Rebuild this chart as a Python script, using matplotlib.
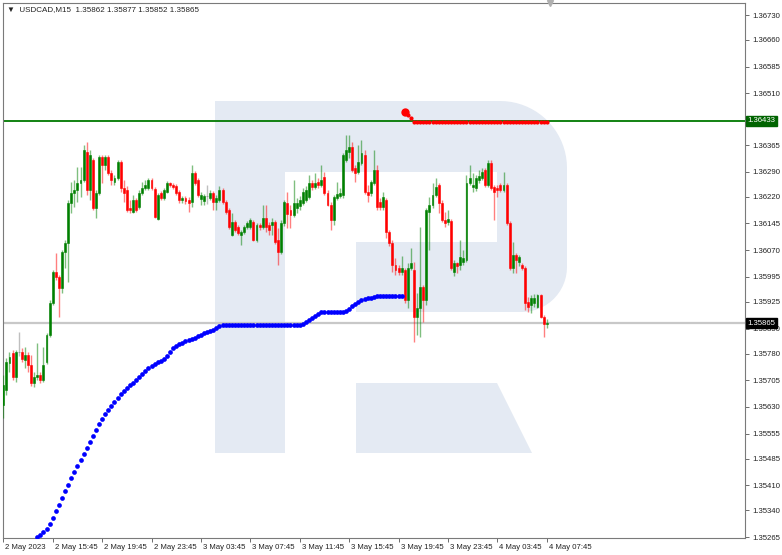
import numpy as np
import matplotlib
matplotlib.use("Agg")
import matplotlib.pyplot as plt
from matplotlib.patches import Polygon
from matplotlib import transforms

plt.rcParams['font.family'] = ['Liberation Sans', 'DejaVu Sans']

symbol = "USDCAD,M15"

# M15 bars, 2 May 11:45 .. 4 May 07:45
opens = [
    1.35635, 1.35678, 1.35753, 1.35781, 1.35714, 1.35784, 1.35784, 1.35762, 1.35776, 1.35748,
    1.35697, 1.35714, 1.35720, 1.35706, 1.35756, 1.35832, 1.35922, 1.36009, 1.35995, 1.35964,
    1.36065, 1.36090, 1.36202, 1.36230, 1.36239, 1.36259, 1.36267, 1.36346, 1.36239, 1.36323,
    1.36188, 1.36230, 1.36332, 1.36309, 1.36332, 1.36287, 1.36261, 1.36273, 1.36318, 1.36245,
    1.36239, 1.36188, 1.36177, 1.36211, 1.36191, 1.36230, 1.36245, 1.36245, 1.36267, 1.36242,
    1.36157, 1.36230, 1.36217, 1.36233, 1.36259, 1.36253, 1.36250, 1.36233, 1.36211, 1.36217,
    1.36211, 1.36205, 1.36287, 1.36267, 1.36214, 1.36208, 1.36222, 1.36217, 1.36230, 1.36205,
    1.36211, 1.36239, 1.36205, 1.36183, 1.36113, 1.36149, 1.36135, 1.36113, 1.36121, 1.36135,
    1.36135, 1.36149, 1.36099, 1.36141, 1.36135, 1.36160, 1.36141, 1.36141, 1.36149, 1.36099,
    1.36065, 1.36146, 1.36202, 1.36183, 1.36169, 1.36188, 1.36194, 1.36202, 1.36211, 1.36219,
    1.36259, 1.36247, 1.36261, 1.36253, 1.36275, 1.36230, 1.36197, 1.36155, 1.36217, 1.36222,
    1.36225, 1.36323, 1.36346, 1.36360, 1.36301, 1.36290, 1.36315, 1.36337, 1.36233, 1.36230,
    1.36259, 1.36295, 1.36205, 1.36191, 1.36211, 1.36121, 1.36090, 1.36028, 1.36020, 1.36009,
    1.36014, 1.35930, 1.36020, 1.36014, 1.35882, 1.35908, 1.35967, 1.35930, 1.36177, 1.36197,
    1.36225, 1.36253, 1.36202, 1.36155, 1.36149, 1.36152, 1.36009, 1.36034, 1.36028, 1.36037,
    1.36042, 1.36259, 1.36247, 1.36245, 1.36267, 1.36273, 1.36295, 1.36253, 1.36315, 1.36247,
    1.36245, 1.36253, 1.36239, 1.36253, 1.36146, 1.36020, 1.36056, 1.36037, 1.36028, 1.36020,
    1.35924, 1.35916, 1.35922, 1.35910, 1.35944, 1.35882, 1.35862,
]
highs = [
    1.35720, 1.35767, 1.35784, 1.35790, 1.35790, 1.35840, 1.35795, 1.35798, 1.35784, 1.35776,
    1.35728, 1.35809, 1.35728, 1.35798, 1.35837, 1.35930, 1.36014, 1.36062, 1.36000, 1.36070,
    1.36099, 1.36211, 1.36261, 1.36267, 1.36303, 1.36303, 1.36365, 1.36374, 1.36351, 1.36329,
    1.36239, 1.36337, 1.36337, 1.36337, 1.36337, 1.36295, 1.36281, 1.36323, 1.36323, 1.36267,
    1.36250, 1.36211, 1.36225, 1.36217, 1.36239, 1.36261, 1.36267, 1.36273, 1.36273, 1.36247,
    1.36230, 1.36236, 1.36245, 1.36264, 1.36261, 1.36259, 1.36256, 1.36239, 1.36222, 1.36222,
    1.36219, 1.36309, 1.36292, 1.36273, 1.36233, 1.36228, 1.36253, 1.36239, 1.36236, 1.36225,
    1.36250, 1.36245, 1.36211, 1.36188, 1.36174, 1.36155, 1.36141, 1.36127, 1.36141, 1.36152,
    1.36160, 1.36155, 1.36146, 1.36146, 1.36197, 1.36197, 1.36149, 1.36160, 1.36155, 1.36132,
    1.36155, 1.36211, 1.36233, 1.36197, 1.36267, 1.36217, 1.36222, 1.36245, 1.36250, 1.36281,
    1.36267, 1.36287, 1.36273, 1.36309, 1.36290, 1.36239, 1.36205, 1.36225, 1.36261, 1.36245,
    1.36343, 1.36393, 1.36393, 1.36374, 1.36309, 1.36365, 1.36379, 1.36351, 1.36253, 1.36267,
    1.36351, 1.36309, 1.36217, 1.36233, 1.36217, 1.36127, 1.36099, 1.36048, 1.36028, 1.36054,
    1.36020, 1.36034, 1.36076, 1.36037, 1.35950, 1.36135, 1.35972, 1.36188, 1.36219, 1.36259,
    1.36273, 1.36259, 1.36211, 1.36177, 1.36183, 1.36157, 1.36042, 1.36037, 1.36099, 1.36070,
    1.36281, 1.36309, 1.36287, 1.36281, 1.36295, 1.36301, 1.36301, 1.36323, 1.36323, 1.36253,
    1.36253, 1.36259, 1.36290, 1.36259, 1.36152, 1.36093, 1.36062, 1.36056, 1.36034, 1.36026,
    1.35938, 1.35944, 1.35947, 1.35947, 1.35947, 1.35888, 1.35877,
]
lows = [
    1.35599, 1.35664, 1.35728, 1.35706, 1.35700, 1.35773, 1.35756, 1.35739, 1.35728, 1.35689,
    1.35686, 1.35706, 1.35697, 1.35700, 1.35750, 1.35826, 1.35916, 1.35986, 1.35882, 1.35950,
    1.36020, 1.35981, 1.36174, 1.36191, 1.36205, 1.36219, 1.36261, 1.36225, 1.36211, 1.36183,
    1.36160, 1.36225, 1.36259, 1.36295, 1.36281, 1.36253, 1.36253, 1.36267, 1.36233, 1.36205,
    1.36177, 1.36174, 1.36174, 1.36177, 1.36186, 1.36225, 1.36239, 1.36239, 1.36239, 1.36160,
    1.36155, 1.36211, 1.36211, 1.36230, 1.36247, 1.36242, 1.36225, 1.36202, 1.36202, 1.36200,
    1.36177, 1.36191, 1.36253, 1.36219, 1.36197, 1.36197, 1.36200, 1.36211, 1.36183, 1.36183,
    1.36205, 1.36200, 1.36172, 1.36129, 1.36110, 1.36121, 1.36113, 1.36084, 1.36115, 1.36129,
    1.36129, 1.36096, 1.36093, 1.36127, 1.36129, 1.36121, 1.36113, 1.36113, 1.36087, 1.36028,
    1.36059, 1.36138, 1.36132, 1.36132, 1.36163, 1.36174, 1.36183, 1.36197, 1.36205, 1.36214,
    1.36239, 1.36242, 1.36245, 1.36247, 1.36225, 1.36194, 1.36127, 1.36141, 1.36211, 1.36217,
    1.36217, 1.36318, 1.36329, 1.36290, 1.36261, 1.36284, 1.36309, 1.36228, 1.36205, 1.36222,
    1.36253, 1.36183, 1.36183, 1.36183, 1.36104, 1.36082, 1.36009, 1.36000, 1.36000, 1.36000,
    1.35922, 1.35908, 1.36014, 1.35812, 1.35832, 1.35826, 1.35868, 1.35916, 1.36070, 1.36188,
    1.36219, 1.36174, 1.36149, 1.36135, 1.36141, 1.36014, 1.35997, 1.36006, 1.36014, 1.36028,
    1.36037, 1.36253, 1.36233, 1.36236, 1.36259, 1.36267, 1.36247, 1.36247, 1.36239, 1.36155,
    1.36219, 1.36233, 1.36233, 1.36141, 1.36014, 1.36006, 1.36006, 1.36026, 1.36014, 1.35902,
    1.35896, 1.35894, 1.35910, 1.35908, 1.35879, 1.35826, 1.35852,
]
closes = [
    1.35692, 1.35756, 1.35770, 1.35714, 1.35784, 1.35784, 1.35765, 1.35776, 1.35748, 1.35697,
    1.35714, 1.35720, 1.35706, 1.35748, 1.35832, 1.35922, 1.36009, 1.35995, 1.35964, 1.36065,
    1.36090, 1.36202, 1.36230, 1.36239, 1.36259, 1.36267, 1.36351, 1.36239, 1.36337, 1.36188,
    1.36230, 1.36332, 1.36309, 1.36332, 1.36287, 1.36267, 1.36273, 1.36318, 1.36245, 1.36230,
    1.36183, 1.36183, 1.36211, 1.36183, 1.36230, 1.36245, 1.36253, 1.36267, 1.36245, 1.36163,
    1.36225, 1.36217, 1.36239, 1.36259, 1.36253, 1.36247, 1.36230, 1.36211, 1.36217, 1.36208,
    1.36202, 1.36287, 1.36259, 1.36225, 1.36225, 1.36222, 1.36222, 1.36230, 1.36205, 1.36217,
    1.36239, 1.36205, 1.36177, 1.36135, 1.36149, 1.36127, 1.36118, 1.36121, 1.36135, 1.36146,
    1.36155, 1.36099, 1.36141, 1.36135, 1.36160, 1.36135, 1.36127, 1.36149, 1.36093, 1.36065,
    1.36146, 1.36205, 1.36172, 1.36169, 1.36202, 1.36202, 1.36211, 1.36233, 1.36239, 1.36259,
    1.36247, 1.36259, 1.36253, 1.36267, 1.36230, 1.36197, 1.36155, 1.36219, 1.36228, 1.36230,
    1.36337, 1.36351, 1.36360, 1.36295, 1.36287, 1.36318, 1.36343, 1.36233, 1.36225, 1.36261,
    1.36295, 1.36191, 1.36191, 1.36219, 1.36121, 1.36090, 1.36028, 1.36014, 1.36009, 1.36020,
    1.35930, 1.36020, 1.36034, 1.35882, 1.35908, 1.35967, 1.35930, 1.36183, 1.36197, 1.36225,
    1.36247, 1.36202, 1.36155, 1.36146, 1.36157, 1.36020, 1.36034, 1.36026, 1.36051, 1.36048,
    1.36259, 1.36273, 1.36253, 1.36273, 1.36278, 1.36290, 1.36253, 1.36315, 1.36245, 1.36233,
    1.36239, 1.36239, 1.36253, 1.36146, 1.36020, 1.36056, 1.36042, 1.36051, 1.36020, 1.35922,
    1.35910, 1.35936, 1.35936, 1.35944, 1.35882, 1.35862, 1.35865,
]

# trailing-stop indicator: blue (below price) then red (above price)
blue_start = 11
blue_stop = [
    1.35265, 1.35271, 1.35279, 1.35287, 1.35301, 1.35318, 1.35338, 1.35355, 1.35374, 1.35394,
    1.35411, 1.35431, 1.35447, 1.35464, 1.35481, 1.35498, 1.35515, 1.35532, 1.35548, 1.35565,
    1.35582, 1.35596, 1.35610, 1.35621, 1.35633, 1.35644, 1.35655, 1.35666, 1.35675, 1.35683,
    1.35692, 1.35697, 1.35706, 1.35714, 1.35723, 1.35731, 1.35739, 1.35745, 1.35750, 1.35756,
    1.35759, 1.35765, 1.35773, 1.35784, 1.35795, 1.35801, 1.35807, 1.35809, 1.35815, 1.35818,
    1.35821, 1.35823, 1.35829, 1.35832, 1.35837, 1.35840, 1.35843, 1.35846, 1.35851, 1.35857,
    1.35860, 1.35860, 1.35860, 1.35860, 1.35860, 1.35860, 1.35860, 1.35860, 1.35860, 1.35860,
    1.35860, 1.35860, 1.35860, 1.35860, 1.35860, 1.35860, 1.35860, 1.35860, 1.35860, 1.35860,
    1.35860, 1.35860, 1.35860, 1.35860, 1.35860, 1.35860, 1.35863, 1.35868, 1.35874, 1.35879,
    1.35885, 1.35891, 1.35896, 1.35896, 1.35896, 1.35896, 1.35896, 1.35896, 1.35896, 1.35896,
    1.35899, 1.35905, 1.35913, 1.35919, 1.35924, 1.35930, 1.35933, 1.35936, 1.35936, 1.35938,
    1.35941, 1.35941, 1.35941, 1.35941, 1.35941, 1.35941, 1.35941, 1.35941, 1.35941,
]
red_start = 130
red_stop = [
    1.36458, 1.36449, 1.36441, 1.36431, 1.36431, 1.36431, 1.36431, 1.36431, 1.36431, 1.36431,
    1.36431, 1.36431, 1.36431, 1.36431, 1.36431, 1.36431, 1.36431, 1.36431, 1.36431, 1.36431,
    1.36431, 1.36431, 1.36431, 1.36431, 1.36431, 1.36431, 1.36431, 1.36431, 1.36431, 1.36431,
    1.36431, 1.36431, 1.36431, 1.36431, 1.36431, 1.36431, 1.36431, 1.36431, 1.36431, 1.36431,
    1.36431, 1.36431, 1.36431, 1.36431, 1.36431, 1.36431, 1.36431,
]

resistance = 1.36433
last_price = 1.35865

time_labels = ["2 May 2023", "2 May 15:45", "2 May 19:45", "2 May 23:45", "3 May 03:45",
               "3 May 07:45", "3 May 11:45", "3 May 15:45", "3 May 19:45", "3 May 23:45",
               "4 May 03:45", "4 May 07:45"]
# the level under the green price tag is hidden in the reference
price_labels = ["1.35265", "1.35340", "1.35410", "1.35485", "1.35555", "1.35630", "1.35705",
                "1.35780", "1.35850", "1.35925", "1.35995", "1.36070", "1.36145", "1.36220",
                "1.36290", "1.36365", "1.36510", "1.36585", "1.36660", "1.36730"]

o = np.array(opens)
h = np.array(highs)
l = np.array(lows)
c = np.array(closes)
n = len(c)
x = np.arange(n)

fig = plt.figure(figsize=(7.82, 5.55), dpi=100)
ax = fig.add_axes([3 / 782, 17 / 555, 742 / 782, 535 / 555])

# watermark logo, drawn in figure pixels (y down)
px = transforms.Affine2D().scale(1 / 782, -1 / 555).translate(0, 1) + fig.transFigure
t1 = np.linspace(np.pi / 2, 0, 20)
t2 = np.linspace(0, -np.pi / 2, 15)
arc1 = np.column_stack([500 + 67 * np.cos(t1), 168 - 67 * np.sin(t1)])
arc2 = np.column_stack([522 + 45 * np.cos(t2), 267 - 45 * np.sin(t2)])
body = np.vstack([[[215, 101]], arc1, arc2,
                  [[356, 312], [356, 242], [497, 242], [497, 172], [285, 172], [285, 453], [215, 453]]])
wm = '#e4eaf3'
ax.add_patch(Polygon(body, closed=True, fc=wm, ec='none', transform=px, zorder=0))
ax.add_patch(Polygon([[356, 383], [497, 383], [532, 453], [356, 453]], closed=True,
                     fc=wm, ec='none', transform=px, zorder=0))

# horizontal levels
ax.axhline(last_price, color='#c8c8c8', lw=1.6, zorder=1)
ax.axhline(resistance, color='#007800', lw=1.3, zorder=2)

# candles
up_col, dn_col, dj_col = '#008000', '#ff0000', '#808080'
cols = np.where(c > o, up_col, np.where(c < o, dn_col, dj_col))
ax.vlines(x, l, h, colors=cols, lw=1.0, alpha=0.5, zorder=3)
ax.bar(x, np.abs(c - o), bottom=np.minimum(o, c), width=0.62, color=cols,
       edgecolor=cols, linewidth=0.4, zorder=4)

# stop dots
xb = np.arange(blue_start, blue_start + len(blue_stop))
ax.plot(xb, blue_stop, 'o', color='#0000ff', ms=3.4, mew=0, zorder=5)
xr = np.arange(red_start, red_start + len(red_stop))
ax.plot(xr[1:], red_stop[1:], 'o', color='#ff0000', ms=3.0, mew=0, zorder=5)
ax.plot(xr[:1], red_stop[:1], 'o', color='#ff0000', ms=6.0, mew=0, zorder=5)

ax.set_xlim(-0.1, 240.2)
ax.set_ylim(1.352622, 1.367637)

for s in ax.spines.values():
    s.set_color('#7a7a7a')
    s.set_linewidth(0.8)

ax.yaxis.tick_right()
ax.set_yticks([float(v) for v in price_labels])
ax.set_yticklabels(price_labels)
ax.tick_params(axis='y', direction='out', length=3, width=0.6, colors='#555555',
               labelsize=5.6, labelcolor='#222222', pad=2)
ax.set_xticks(x[::16])
ax.set_xticklabels(time_labels)
ax.tick_params(axis='x', direction='out', length=3, width=0.6, colors='#555555',
               labelsize=5.6, labelcolor='#222222', pad=1.5)
shift = transforms.ScaledTranslation(2 / 100, 0, fig.dpi_scale_trans)
for lbl in ax.get_xticklabels():
    lbl.set_ha('left')
    lbl.set_transform(lbl.get_transform() + shift)

# price tags on the right scale
ytr = ax.get_yaxis_transform()
ax.text(1.003, resistance, f"{resistance:.5f}", transform=ytr, ha='left', va='center',
        fontsize=5.6, color='white', zorder=6, clip_on=False,
        bbox=dict(boxstyle='square,pad=0.2', fc='#006400', ec='#006400'))
ax.text(1.003, last_price, f"{last_price:.5f}", transform=ytr, ha='left', va='center',
        fontsize=5.6, color='white', zorder=6, clip_on=False,
        bbox=dict(boxstyle='square,pad=0.2', fc='black', ec='black'))

# header line
head = f"\u25bc  {symbol}  {o[-1]:.5f} {h[-1]:.5f} {l[-1]:.5f} {c[-1]:.5f}"
ax.text(0.006, 0.987, head, transform=ax.transAxes, fontsize=5.8, color='#222222',
        va='center', ha='left', zorder=6)

# chart shift marker
ax.plot([n], [1.0], marker='v', color='#b0b0b0', ms=5, transform=ax.get_xaxis_transform(),
        clip_on=False, zorder=6)

fig.savefig('out.png', dpi=100)
